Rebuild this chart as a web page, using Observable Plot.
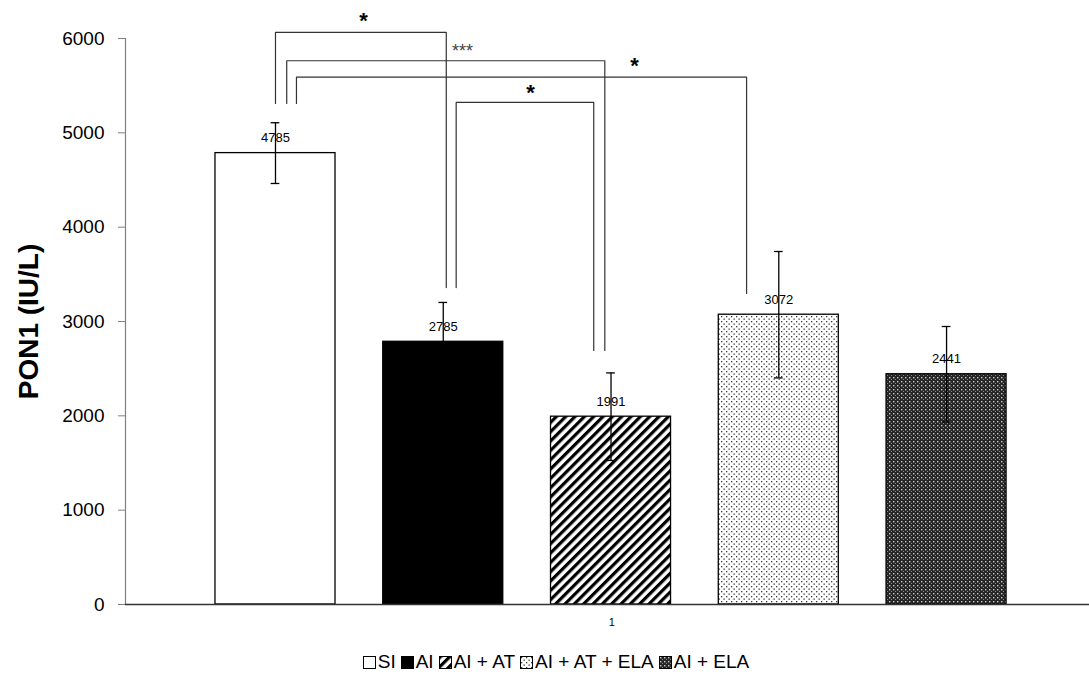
<!DOCTYPE html>
<html>
<head>
<meta charset="utf-8">
<script src="https://cdn.jsdelivr.net/npm/d3@7"></script>
<script src="https://cdn.jsdelivr.net/npm/@observablehq/plot@0.6"></script>
<style>
  html, body { margin: 0; padding: 0; background: #fff; overflow: hidden; }
  body { font-family: "Liberation Sans", Arial, sans-serif; width: 1089px; height: 679px; position: relative; }
  #chart { position: absolute; left: 0; top: 0; }
  #legend { position: absolute; left: 0; width: 1112px; top: 651px; text-align: center; font-size: 19px; color: #000; white-space: nowrap; }
  #legend .item { display: inline-flex; align-items: center; margin: 0 0 0 5px; }
  #legend .item:first-child { margin-left: 0; }
  #legend svg { margin-right: 2px; }
</style>
</head>
<body>
<div id="chart"></div>
<div id="legend"></div>
<script>
// ---- data ----
const groups = ["SI", "AI", "AI + AT", "AI + AT + ELA", "AI + ELA"];
const means = [4785, 2785, 1991, 3072, 2441];
const errors = [322, 417, 464, 670, 506];
const patterns = ["pSI", "pAI", "pAIAT", "pAIATELA", "pAIELA"];
const yTicks = [0, 1000, 2000, 3000, 4000, 5000, 6000];
const xLabels = ["1"];
const yTitle = "PON1 (IU/L)";
// significance brackets: x positions in group-index units, y in IU/L
const bracketLabels = ["*", "***", "*", "*"];
const bracketX1 = [0.0, 0.067, 0.125, 1.077];
const bracketX2 = [1.018, 1.963, 2.808, 1.897];
const bracketTop = [6064, 5764, 5590, 5322];
const bracketLeftEnd = [5311, 5311, 5311, 3360];
const bracketRightEnd = [3360, 2693, 3297, 2693];
const starX = [0.525, 1.115, 2.14, 1.52];
const starY = [6190, 5860, 5710, 5420];

// ---- derived tables ----
const bars = groups.map((g, i) => ({g, i, v: means[i], e: errors[i], fill: `url(#${patterns[i]})`}));
const half = 0.3577;
const capHalf = 0.026;
const bracketPts = [];
bracketLabels.forEach((lab, k) => {
  bracketPts.push({k, x: bracketX1[k], y: bracketLeftEnd[k]});
  bracketPts.push({k, x: bracketX1[k], y: bracketTop[k]});
  bracketPts.push({k, x: bracketX2[k], y: bracketTop[k]});
  bracketPts.push({k, x: bracketX2[k], y: bracketRightEnd[k]});
});
const stars = bracketLabels.map((s, k) => ({s, x: starX[k], y: starY[k], big: s === "*"}));

const xMin = -0.894, xMax = 4.852;

const chart = Plot.plot({
  width: 1089,
  height: 640,
  marginLeft: 125,
  marginRight: 0,
  marginTop: 38,
  marginBottom: 36,
  style: {fontFamily: "'Liberation Sans', Arial, sans-serif", background: "#fff", color: "#000"},
  x: {domain: [xMin, xMax], axis: null},
  y: {domain: [0, 6000], axis: null},
  color: {type: "identity"},
  marks: [
    Plot.rectY(bars, {x1: d => d.i - half, x2: d => d.i + half, y1: 0, y2: "v", fill: "fill", stroke: "#000", strokeWidth: 1.3}),
    // y axis
    Plot.ruleX([xMin], {y1: 0, y2: 6000, stroke: "#808080", strokeWidth: 1.2}),
    Plot.axisY({ticks: yTicks, tickSize: 7, tickPadding: 14, fontSize: 19, stroke: "#808080", tickFormat: d => String(d)}),
    // x axis baseline
    Plot.ruleY([0], {stroke: "#333", strokeWidth: 1.3}),
    Plot.text(xLabels, {x: 2.005, y: 0, dy: 18, text: d => d, fontSize: 11, fill: "#000"}),
    // error bars
    Plot.ruleX(bars, {x: "i", y1: d => d.v - d.e, y2: d => d.v + d.e, stroke: "#000", strokeWidth: 1.3}),
    Plot.ruleY(bars, {y: d => d.v + d.e, x1: d => d.i - capHalf, x2: d => d.i + capHalf, stroke: "#000", strokeWidth: 1.3}),
    Plot.ruleY(bars, {y: d => d.v - d.e, x1: d => d.i - capHalf, x2: d => d.i + capHalf, stroke: "#000", strokeWidth: 1.3}),
    // value labels
    Plot.text(bars, {x: "i", y: "v", text: d => String(d.v), dy: -15, fontSize: 13}),
    // significance brackets
    Plot.line(bracketPts, {x: "x", y: "y", z: "k", stroke: "#333", strokeWidth: 1.2, curve: "linear"}),
    Plot.text(stars.filter(d => d.big), {x: "x", y: "y", text: "s", fontSize: 22, fontWeight: "bold"}),
    Plot.text(stars.filter(d => !d.big), {x: "x", y: "y", text: "s", fontSize: 18, fill: "#444"}),
    // y title
    Plot.text([yTitle], {frameAnchor: "left", dx: -96, rotate: -90, textAnchor: "middle", lineAnchor: "middle", fontSize: 28, fontWeight: "bold", text: d => d})
  ]
});

const defs = `
<defs>
  <pattern id="pSI" patternUnits="userSpaceOnUse" width="4" height="4"><rect width="4" height="4" fill="#fff"/></pattern>
  <pattern id="pAI" patternUnits="userSpaceOnUse" width="4" height="4"><rect width="4" height="4" fill="#000"/></pattern>
  <pattern id="pAIAT" patternUnits="userSpaceOnUse" width="6.6" height="6.6" patternTransform="rotate(45)">
    <rect width="6.6" height="6.6" fill="#fff"/><rect x="0" y="0" width="3.2" height="6.6" fill="#000"/>
  </pattern>
  <pattern id="pAIATELA" patternUnits="userSpaceOnUse" width="5" height="5">
    <rect width="5" height="5" fill="#fff"/>
    <rect x="1" y="1" width="1.3" height="1.3" fill="#3a3a3a"/>
    <rect x="3.5" y="3.5" width="1.3" height="1.3" fill="#3a3a3a"/>
  </pattern>
  <pattern id="pAIELA" patternUnits="userSpaceOnUse" width="4" height="4">
    <rect width="4" height="4" fill="#262626"/>
    <rect x="1" y="1" width="1.4" height="1.4" fill="#c8c8c8"/>
    <rect x="3" y="3" width="1" height="1" fill="#888"/>
  </pattern>
</defs>`;
chart.insertAdjacentHTML("afterbegin", defs);
document.getElementById("chart").appendChild(chart);

// legend
const legend = document.getElementById("legend");
groups.forEach((g, i) => {
  const item = document.createElement("span");
  item.className = "item";
  item.innerHTML = `<svg width="13" height="13" viewBox="0 0 13 13"><rect x="0.5" y="0.5" width="12" height="12" fill="url(#${patterns[i]})" stroke="#000" stroke-width="1"/></svg><span>${g}</span>`;
  legend.appendChild(item);
});
</script>
</body>
</html>
